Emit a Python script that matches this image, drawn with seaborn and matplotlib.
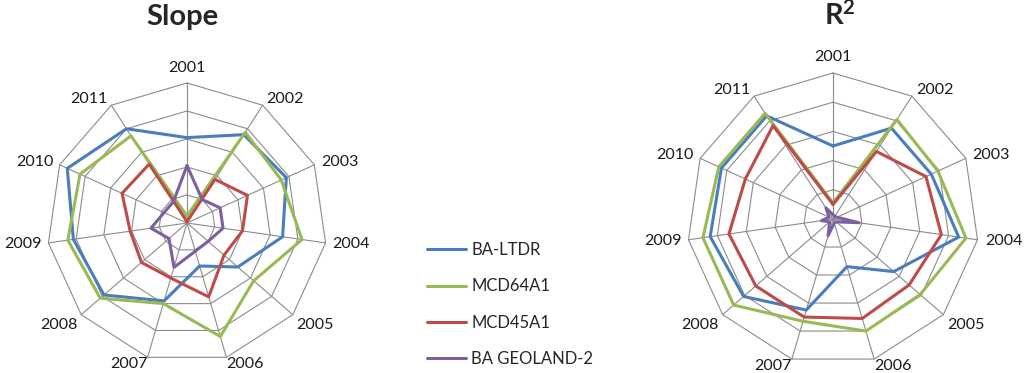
import numpy as np
import pandas as pd
import matplotlib
matplotlib.use("Agg")
import matplotlib.pyplot as plt
import seaborn as sns

# ---------------- data ----------------
years = [str(y) for y in range(2001, 2012)]
series_names = ["BA-LTDR", "MCD64A1", "MCD45A1", "BA GEOLAND-2"]

slope_ba_ltdr = [0.61, 0.75, 0.78, 0.69, 0.48, 0.32, 0.58, 0.785, 0.82, 0.94, 0.80]
slope_mcd64a1 = [0.05, 0.77, 0.74, 0.83, 0.63, 0.845, 0.60, 0.82, 0.86, 0.84, 0.74]
slope_mcd45a1 = [0.01, 0.37, 0.475, 0.40, 0.35, 0.55, 0.41, 0.43, 0.41, 0.51, 0.50]
slope_geoland2 = [0.41, 0.20, 0.26, 0.26, 0.20, 0.21, 0.33, 0.17, 0.26, 0.18, 0.18]

r2_ba_ltdr = [0.50, 0.74, 0.74, 0.87, 0.55, 0.34, 0.65, 0.81, 0.85, 0.84, 0.84]
r2_mcd64a1 = [0.11, 0.81, 0.79, 0.92, 0.79, 0.80, 0.73, 0.90, 0.90, 0.86, 0.86]
r2_mcd45a1 = [0.10, 0.55, 0.70, 0.75, 0.69, 0.71, 0.70, 0.70, 0.72, 0.66, 0.76]
r2_geoland2 = [0.03, 0.02, 0.03, 0.18, 0.03, 0.03, 0.12, 0.03, 0.08, 0.03, 0.09]

ring_levels = [0.2, 0.4, 0.6, 0.8, 1.0]
colors = ["#4A7EBB", "#98B954", "#BE4B48", "#7D60A0"]
grid_color = "#8C8C8C"

# ---------------- style ----------------
sns.set_theme(style="white")
plt.rcParams["font.family"] = ["Lato", "DejaVu Sans"]
plt.rcParams["mathtext.fontset"] = "custom"
plt.rcParams["mathtext.rm"] = "Lato"
plt.rcParams["mathtext.bf"] = "Lato:bold"

W, H = 1024, 373
fig = plt.figure(figsize=(W / 100, H / 100), dpi=100)


def make_axes(x0_px, w_px, cx_px, cy_px, R_px):
    ax = fig.add_axes([x0_px / W, 0, w_px / W, 1])
    cx = cx_px - x0_px
    cy_b = H - cy_px
    ax.set_xlim(-cx / R_px, (w_px - cx) / R_px)
    ax.set_ylim(-cy_b / R_px, (H - cy_b) / R_px)
    ax.set_axis_off()
    return ax


def radar(ax, values_list):
    n = len(years)
    theta = 2 * np.pi * np.arange(n) / n
    tc = np.append(theta, theta[0])
    # polygon grid
    for lv in ring_levels:
        ax.plot(lv * np.sin(tc), lv * np.cos(tc), color=grid_color, lw=0.8, zorder=1)
    for t in theta:
        ax.plot([0, np.sin(t)], [0, np.cos(t)], color=grid_color, lw=0.8, zorder=1)
    # series
    rows = []
    for name, vals in zip(series_names, values_list):
        v = np.append(np.asarray(vals, float), vals[0])
        for i, (t, r) in enumerate(zip(tc, v)):
            rows.append({"series": name, "order": i,
                         "x": r * np.sin(t), "y": r * np.cos(t)})
    df = pd.DataFrame(rows)
    sns.lineplot(data=df, x="x", y="y", hue="series", hue_order=series_names,
                 palette=colors, sort=False, estimator=None, lw=2.2, ax=ax,
                 zorder=3)
    # category labels
    for t, lab in zip(theta, years):
        s, c = np.sin(t), np.cos(t)
        ha = "center" if abs(s) < 0.1 else ("left" if s > 0 else "right")
        if c > 0.9:
            va, rl = "bottom", 1.06
        elif c < -0.9:
            va, rl = "top", 1.0
        elif c < -0.5:
            va, rl = "top", 1.035
        else:
            va, rl = "center", 1.05
        ax.text(rl * s, rl * c, lab, ha=ha, va=va,
                fontsize=11.5, color="#1a1a1a")


ax1 = make_axes(0, 512, 187, 223, 140)
radar(ax1, [slope_ba_ltdr, slope_mcd64a1, slope_mcd45a1, slope_geoland2])
ax2 = make_axes(512, 512, 833, 219, 146)
radar(ax2, [r2_ba_ltdr, r2_mcd64a1, r2_mcd45a1, r2_geoland2])

handles, labels = ax1.get_legend_handles_labels()
ax1.get_legend().remove()
ax2.get_legend().remove()
fig.legend(handles, labels, loc="upper left",
           bbox_to_anchor=(427 / W, 1 - 242 / H), frameon=False,
           fontsize=12, handlelength=2.35, handletextpad=0.3,
           labelspacing=1.22, borderpad=0, borderaxespad=0)

fig.text(182 / W, 1 - 24.5 / H, "Slope", ha="center", va="baseline",
         fontsize=21, fontweight="bold")
fig.text(840 / W, 1 - 24.5 / H, r"$\mathbf{R^2}$", ha="center", va="baseline",
         fontsize=21)

fig.savefig("out.png", dpi=100)
